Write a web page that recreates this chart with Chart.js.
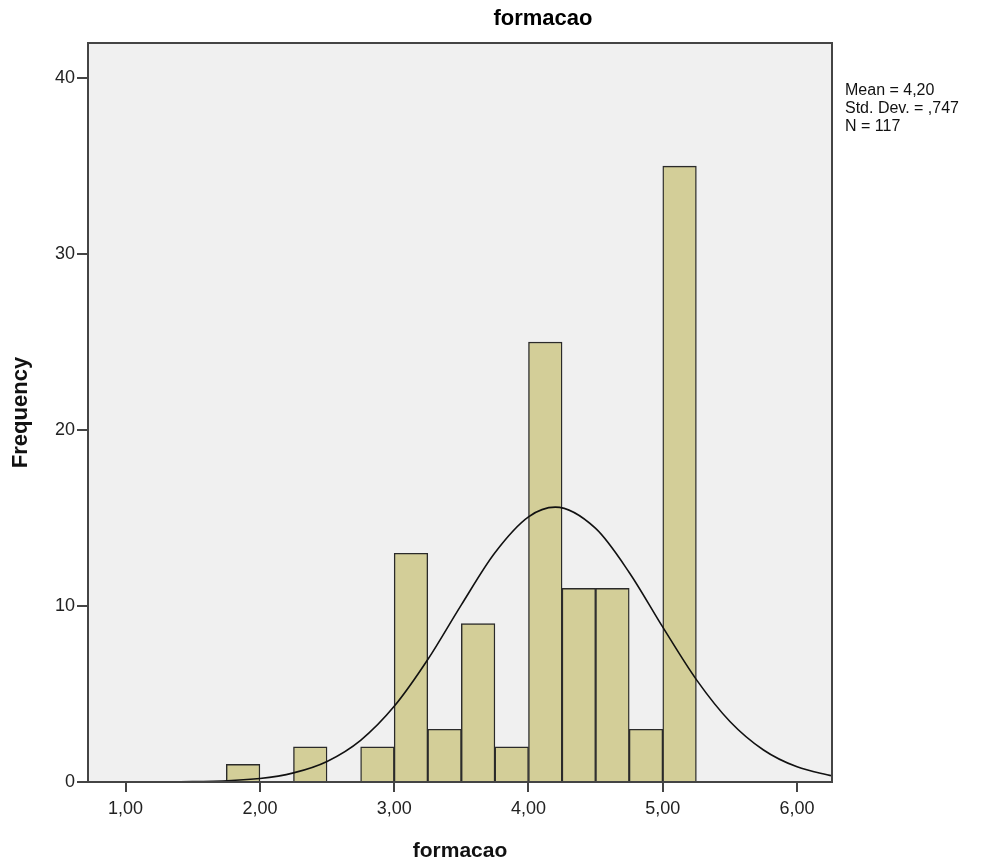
<!DOCTYPE html>
<html lang="pt">
<head>
  <meta charset="UTF-8">
  <title>formacao</title>
  <script src="https://cdn.jsdelivr.net/npm/chart.js"></script>
  <style>
    html, body { margin: 0; padding: 0; background: #fff; }
    #wrap { width: 988px; height: 862px; }
  </style>
</head>
<body>
  <div id="wrap"><canvas id="histograma" width="988" height="862"></canvas></div>

  <script>
    // Histograma: centro de cada classe (largura 0,25) e frequencia
    const binCenters = [1.875, 2.375, 2.875, 3.125, 3.375, 3.625, 3.875, 4.125, 4.375, 4.625, 4.875, 5.125];
    const frequencies = [1, 2, 2, 13, 3, 9, 2, 25, 11, 11, 3, 35];

    // Curva normal
    const curveX = [0.72, 1.0, 1.5, 2.0, 2.25, 2.5, 2.75, 3.0, 3.25, 3.5, 3.75, 4.0, 4.2, 4.5, 4.75, 5.0, 5.25, 5.5, 5.75, 6.0, 6.26];
    const curveY = [0.0, 0.0, 0.02, 0.2, 0.52, 1.17, 2.37, 4.3, 6.96, 10.07, 13.03, 15.07, 15.62, 14.41, 11.91, 8.8, 5.82, 3.44, 1.82, 0.86, 0.35];

    const xTicks = [1, 2, 3, 4, 5, 6];
    const yTicks = [0, 10, 20, 30, 40];
    const statsLines = ['Mean = 4,20', 'Std. Dev. = ,747', 'N = 117'];

    const FONT = '"Liberation Sans", Arial, sans-serif';

    // fundo e moldura da area do grafico, titulo e estatisticas
    const spssFrame = {
      id: 'spssFrame',
      beforeDraw(chart) {
        const { ctx, chartArea: a } = chart;
        ctx.save();
        ctx.fillStyle = '#f0f0f0';
        ctx.fillRect(a.left, a.top, a.right - a.left, a.bottom - a.top);
        ctx.restore();
      },
      afterDraw(chart) {
        const { ctx, chartArea: a } = chart;
        ctx.save();
        ctx.strokeStyle = '#444';
        ctx.lineWidth = 2;
        ctx.strokeRect(a.left, a.top, a.right - a.left, a.bottom - a.top);

        ctx.fillStyle = '#000';
        ctx.font = 'bold 22px ' + FONT;
        ctx.textAlign = 'center';
        ctx.textBaseline = 'middle';
        ctx.fillText('formacao', 543, 19);

        ctx.fillStyle = '#111';
        ctx.font = '16px ' + FONT;
        ctx.textAlign = 'left';
        statsLines.forEach((t, i) => ctx.fillText(t, 845, 91 + i * 18));
        ctx.restore();
      }
    };

    const config = {
      data: {
        datasets: [
          {
            type: 'bar',
            label: 'Frequency',
            data: binCenters.map((x, i) => ({ x: x, y: frequencies[i] })),
            backgroundColor: '#d3ce98',
            borderColor: '#2a2a2a',
            borderWidth: 1.4,
            barPercentage: 1,
            categoryPercentage: 1,
            order: 2
          },
          {
            type: 'line',
            label: 'Normal',
            data: curveX.map((x, i) => ({ x: x, y: curveY[i] })),
            borderColor: '#111',
            borderWidth: 1.6,
            pointRadius: 0,
            cubicInterpolationMode: 'monotone',
            fill: false,
            order: 1
          }
        ]
      },
      options: {
        responsive: false,
        animation: false,
        layout: { padding: { top: 43, right: 156, left: 0, bottom: 0 } },
        plugins: {
          legend: { display: false },
          tooltip: { enabled: false }
        },
        scales: {
          x: {
            type: 'linear',
            offset: false,
            min: 0.72,
            max: 6.26,
            afterBuildTicks: s => { s.ticks = xTicks.map(v => ({ value: v })); },
            afterFit: s => { s.height = 80; },
            grid: { offset: false, drawOnChartArea: false, tickLength: 10, color: '#444', lineWidth: 2 },
            border: { display: false },
            ticks: {
              color: '#222',
              font: { family: FONT, size: 18 },
              padding: 6,
              maxRotation: 0,
              callback: v => v.toFixed(2).replace('.', ',')
            },
            title: {
              display: true,
              text: 'formacao',
              color: '#111',
              font: { family: FONT, size: 21, weight: 'bold' },
              padding: { top: 0, bottom: -2 }
            }
          },
          y: {
            min: 0,
            max: 42,
            afterBuildTicks: s => { s.ticks = yTicks.map(v => ({ value: v })); },
            afterFit: s => { s.width = 88; },
            grid: { drawOnChartArea: false, tickLength: 11, color: '#444', lineWidth: 2 },
            border: { display: false },
            ticks: {
              color: '#222',
              font: { family: FONT, size: 18 },
              padding: 2
            },
            title: {
              display: true,
              text: 'Frequency',
              color: '#111',
              font: { family: FONT, size: 22, weight: 'bold' },
              padding: { top: 8, bottom: 0 }
            }
          }
        }
      },
      plugins: [spssFrame]
    };

    new Chart(document.getElementById('histograma').getContext('2d'), config);
  </script>
</body>
</html>
